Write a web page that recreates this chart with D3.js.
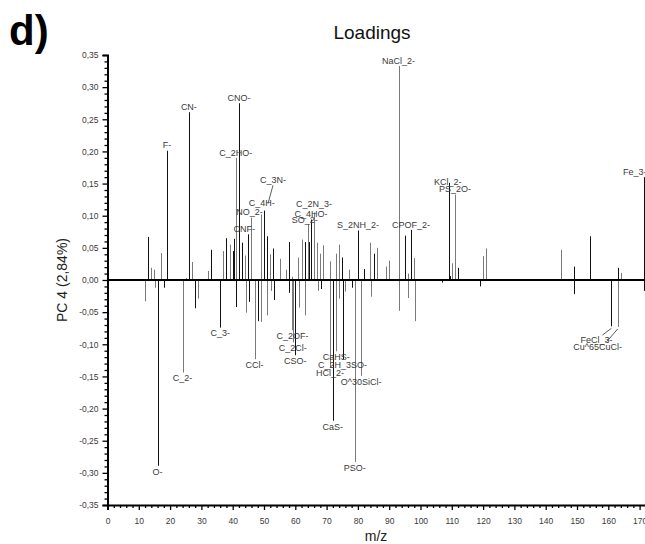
<!DOCTYPE html>
<html>
<head>
<meta charset="utf-8">
<script src="https://cdn.jsdelivr.net/npm/d3@7"></script>
<style>
  body { margin: 0; background: #fff; }
  svg { display: block; font-family: "Liberation Sans", Arial, sans-serif; }
</style>
</head>
<body>
<svg id="chart" width="645" height="544"></svg>
<script>
// m/z of each peak
const massToCharge = [
  12, 13, 14, 15, 15.2, 16, 17, 18, 19, 24, 25, 26, 27, 28, 29, 32, 33, 36, 37, 38,
  39, 40, 40.3, 41, 41.1, 42, 43, 44, 44.1, 45, 45.1, 46, 47, 48, 49, 49.1, 50, 51, 51.1, 52,
  52.1, 53, 53.1, 55, 57, 58, 58.1, 59, 59.1, 59.2, 60, 61, 61.3, 62, 63, 63.1, 64, 64.5, 65, 66,
  67, 67.2, 68, 68.2, 69, 71, 71.1, 72, 73, 73.1, 74, 74.1, 75, 75.1, 76, 77, 78, 79, 80, 81,
  82, 84, 84.1, 85, 86, 89, 90, 93, 93.05, 95, 96, 96.1, 97, 98, 98.1, 107, 109, 109.3, 110, 111,
  112, 119, 120, 121, 145, 149, 149.05, 154, 161, 163, 163.1, 164.2, 171.3, 171.35
];

// PC 4 loading of each peak
const pc4Loadings = [
  -0.033, 0.067, 0.019, 0.016, -0.012, -0.289, 0.042, -0.012, 0.201, -0.144, 0.003, 0.261, 0.028, -0.044, -0.029, 0.014, 0.047, -0.074, 0.045, 0.065,
  0.055, 0.045, 0.064, 0.190, -0.042, 0.275, 0.058, 0.038, -0.051, 0.071, -0.034, 0.097, -0.123, -0.064, 0.102, -0.065, 0.108, 0.068, -0.055, 0.040,
  -0.017, 0.049, -0.031, 0.033, 0.016, 0.059, -0.020, 0.005, -0.078, -0.097, -0.117, 0.035, -0.043, 0.063, 0.059, -0.055, 0.087, 0.059, 0.094, 0.105,
  0.058, -0.017, 0.041, -0.014, 0.054, 0.029, -0.136, -0.219, 0.041, -0.111, 0.055, -0.029, 0.035, -0.123, -0.018, 0.016, -0.012, -0.283, 0.077, -0.149,
  0.017, 0.058, -0.026, 0.041, 0.050, 0.021, 0.030, 0.333, -0.048, 0.069, 0.010, -0.028, 0.078, 0.034, -0.064, -0.004, 0.151, 0.006, 0.026, 0.133,
  0.019, -0.010, 0.037, 0.049, 0.047, 0.021, -0.022, 0.068, -0.072, -0.073, 0.019, 0.011, 0.160, -0.017
];

// which of the two peak sets each line belongs to (0 = black, 1 = grey)
const peakSet = [
  1, 0, 1, 1, 1, 0, 1, 0, 0, 1, 1, 0, 1, 0, 1, 1, 0, 0, 1, 0,
  1, 0, 0, 1, 0, 0, 0, 1, 1, 0, 0, 1, 1, 0, 1, 1, 0, 0, 1, 1,
  1, 0, 0, 1, 1, 0, 0, 1, 1, 1, 0, 1, 1, 1, 0, 1, 1, 0, 0, 1,
  1, 1, 1, 0, 1, 1, 1, 0, 1, 1, 1, 1, 0, 0, 1, 1, 0, 1, 0, 1,
  0, 1, 1, 0, 1, 1, 1, 1, 1, 0, 1, 1, 0, 1, 1, 0, 0, 0, 1, 1,
  0, 0, 1, 1, 1, 0, 0, 0, 0, 1, 0, 1, 0, 0
];

// ion assignments written next to the peaks
const peakLabels = {
  16: "O-", 19: "F-", 24: "C_2-", 26: "CN-", 36: "C_3-", 41: "C_2HO-", 42: "CNO-",
  45: "CNF-", 46: "NO_2-", 47: "CCl-", 49: "C_4H-", 50: "C_3N-", 59.1: "C_2OF-",
  59.2: "C_2Cl-", 60: "CSO-", 64: "SO_2-", 65: "C_4HO-", 66: "C_2N_3-", 71.1: "HCl_2-",
  72: "CaS-", 73.1: "CaHS-", 75.1: "C_2H_3SO-", 79: "PSO-", 80: "S_2NH_2-",
  81: "O^30SiCl-", 93: "NaCl_2-", 97: "CPOF_2-", 109: "KCl_2-", 111: "PS_2O-",
  161: "FeCl_3-", 163: "Cu^65CuCl-", 171.3: "Fe_3-"
};

const xTickValues = [0, 10, 20, 30, 40, 50, 60, 70, 80, 90, 100, 110, 120, 130, 140, 150, 160, 170];
const yTickValues = [-0.35, -0.30, -0.25, -0.20, -0.15, -0.10, -0.05, 0, 0.05, 0.10, 0.15, 0.20, 0.25, 0.30, 0.35];

const svg = d3.select("#chart");
const W = 645, H = 544;
svg.append("rect").attr("width", W).attr("height", H).attr("fill", "#fff");

const x = d3.scaleLinear().domain([0, 170]).range([107.5, 639.6]);
const y = d3.scaleLinear().domain([-0.35, 0.35]).range([505, 55]);

const locale = d3.formatLocale({ decimal: ",", thousands: ".", grouping: [3], currency: ["", ""], minus: "-" });
const fmtY = locale.format(".2f");

const peaks = massToCharge.map((m, i) => ({ m, v: pc4Loadings[i], set: peakSet[i], label: peakLabels[m] }));

// small hand adjustments for crowded labels (pixels)
const labelShift = {
  "CNF-": [-4, 0], "NO_2-": [-2, 0], "C_4H-": [1, -6], "C_3N-": [9, -25],
  "SO_2-": [-3, 1], "C_2N_3-": [0, -3], "KCl_2-": [-1, 4],
  "FeCl_3-": [-15, 8], "Cu^65CuCl-": [-20, 14], "Fe_3-": [-9, 0]
};
const leaders = { "C_3N-": true, "FeCl_3-": true, "Cu^65CuCl-": true };

// minor ticks
const xMinor = d3.range(0, 174, 2).filter(d => d % 10 !== 0);
const yMinor = d3.range(-35, 36, 1).filter(d => d % 5 !== 0).map(d => d / 100);

const axisColor = "#000";
const textColor = "#3a3a3a";

// peak lines
const lines = svg.append("g");
lines.selectAll("line").data(peaks).join("line")
  .attr("x1", d => Math.round(x(d.m)) + 0.5).attr("x2", d => Math.round(x(d.m)) + 0.5)
  .attr("y1", y(0)).attr("y2", d => y(d.v))
  .attr("stroke", d => d.set === 0 ? "#111" : "#7a7a7a")
  .attr("stroke-width", 1);

// zero line
svg.append("line")
  .attr("x1", x(0)).attr("x2", W).attr("y1", y(0)).attr("y2", y(0))
  .attr("stroke", axisColor).attr("stroke-width", 2);

// left axis
const gy = svg.append("g").attr("transform", `translate(${x(0)},0)`);
gy.call(d3.axisLeft(y).tickValues(yTickValues).tickSize(5).tickPadding(4).tickFormat(fmtY));
gy.append("g").call(d3.axisLeft(y).tickValues(yMinor).tickSize(3).tickFormat(""))
  .select(".domain").remove();
gy.selectAll(".domain").attr("stroke-width", 2).attr("stroke", axisColor);
gy.selectAll(".tick line").attr("stroke", axisColor).attr("stroke-width", 1.3);
gy.selectAll(".tick text").attr("fill", textColor).style("font-size", "8.5px")
  .style("font-family", '"Liberation Sans", Arial, sans-serif');

// bottom axis
const xAxisScale = x.copy().domain([0, 180]).range([x(0), x(180)]);
const gx = svg.append("g").attr("transform", `translate(0,${y(-0.35)})`);
gx.call(d3.axisBottom(xAxisScale).tickValues(xTickValues).tickSize(5).tickPadding(8).tickFormat(d3.format("d")));
gx.append("g").call(d3.axisBottom(xAxisScale).tickValues(xMinor).tickSize(3).tickFormat(""))
  .select(".domain").remove();
gx.selectAll(".domain").attr("stroke-width", 2).attr("stroke", axisColor);
gx.selectAll(".tick line").attr("stroke", axisColor).attr("stroke-width", 1.3);
gx.selectAll(".tick text").attr("fill", textColor).style("font-size", "8.5px")
  .style("font-family", '"Liberation Sans", Arial, sans-serif');

// peak labels
const labelled = peaks.filter(d => d.label);
const lab = svg.append("g").style("font-size", "9px").attr("fill", textColor);
labelled.forEach(d => {
  const [dx, dy] = labelShift[d.label] || [0, 0];
  const bx = x(d.m), by = y(d.v);
  const tx = bx + dx;
  const ty = (d.v >= 0 ? by - 2.3 : by + 8.8) + dy;
  lab.append("text").attr("x", tx).attr("y", ty).attr("text-anchor", "middle").text(d.label);
  if (leaders[d.label]) {
    const y0 = d.v >= 0 ? ty + 2 : ty - 8;
    lab.append("line")
      .attr("x1", d.v >= 0 ? tx : tx + (d.label === "FeCl_3-" ? 6 : 9)).attr("y1", y0)
      .attr("x2", d.v >= 0 ? bx + 4 : bx).attr("y2", d.v >= 0 ? by - 7 : by + 2)
      .attr("stroke", "#333").attr("stroke-width", 0.8);
  }
});

// titles
svg.append("text").attr("x", 372).attr("y", 39).attr("text-anchor", "middle")
  .style("font-size", "19px").attr("fill", "#111").text("Loadings");
svg.append("text").attr("x", 9).attr("y", 45)
  .style("font-size", "42px").style("font-weight", "bold").attr("fill", "#000").text("d)");
svg.append("text").attr("x", 376).attr("y", 541).attr("text-anchor", "middle")
  .style("font-size", "14px").attr("fill", "#222").text("m/z");
svg.append("text").attr("transform", "translate(67,280) rotate(-90)").attr("text-anchor", "middle")
  .style("font-size", "14px").attr("fill", "#222").text("PC 4 (2,84%)");
</script>
</body>
</html>
